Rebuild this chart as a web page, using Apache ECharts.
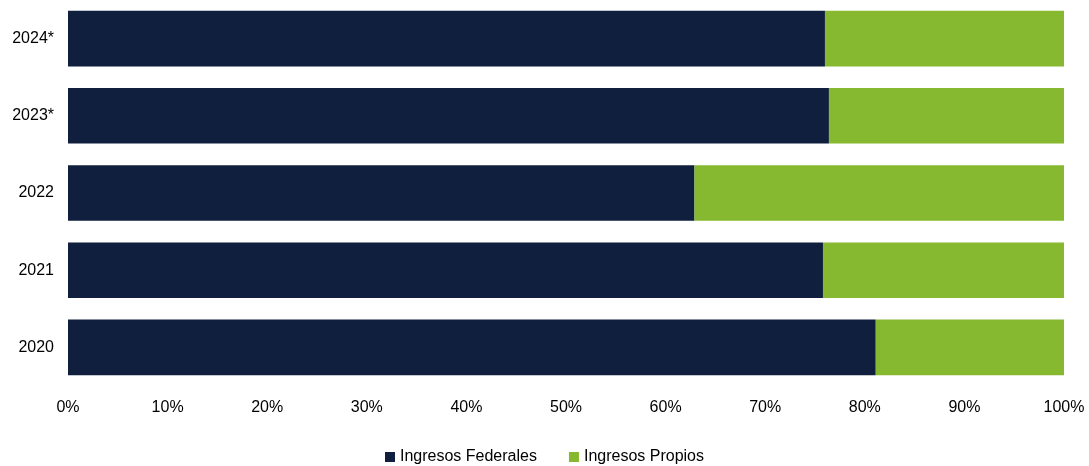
<!DOCTYPE html>
<html><head><meta charset="utf-8">
<script src="https://cdn.jsdelivr.net/npm/echarts@6/dist/echarts.min.js"></script>
<style>html,body{margin:0;padding:0;background:#fff}#c{width:1089px;height:466px}</style>
</head><body><div id="c"></div>
<script>
const categories = ['2020', '2021', '2022', '2023*', '2024*'];
const federales = [81.1, 75.8, 62.9, 76.4, 76.0];
const propios = [18.9, 24.2, 37.1, 23.6, 24.0];
const xTicks = [0, 10, 20, 30, 40, 50, 60, 70, 80, 90, 100];

const chart = echarts.init(document.getElementById('c'));
const font = 'Liberation Sans, Arial, sans-serif';
chart.setOption({
  animation: false,
  grid: { left: 68, right: 25, top: 0, bottom: 80 },
  xAxis: {
    type: 'value', min: 0, max: 100, interval: 10,
    axisLabel: { formatter: v => xTicks.includes(v) ? v + '%' : '', color: '#000', fontFamily: font, fontSize: 16, margin: 14 },
    splitLine: { show: false }, axisLine: { show: false }, axisTick: { show: false }
  },
  yAxis: {
    type: 'category', data: categories,
    axisLabel: { color: '#000', fontFamily: font, fontSize: 16, margin: 14 },
    axisLine: { show: false }, axisTick: { show: false }
  },
  legend: {
    top: 444, left: 'center', itemWidth: 10, itemHeight: 10, itemGap: 32,
    icon: 'rect',
    textStyle: { color: '#000', fontFamily: font, fontSize: 16 },
    data: ['Ingresos Federales', 'Ingresos Propios']
  },
  series: [
    { name: 'Ingresos Federales', type: 'bar', stack: 't', data: federales, barWidth: '72%', itemStyle: { color: '#0F1F3D' } },
    { name: 'Ingresos Propios', type: 'bar', stack: 't', data: propios, barWidth: '72%', itemStyle: { color: '#86B930' } }
  ]
});
</script></body></html>
